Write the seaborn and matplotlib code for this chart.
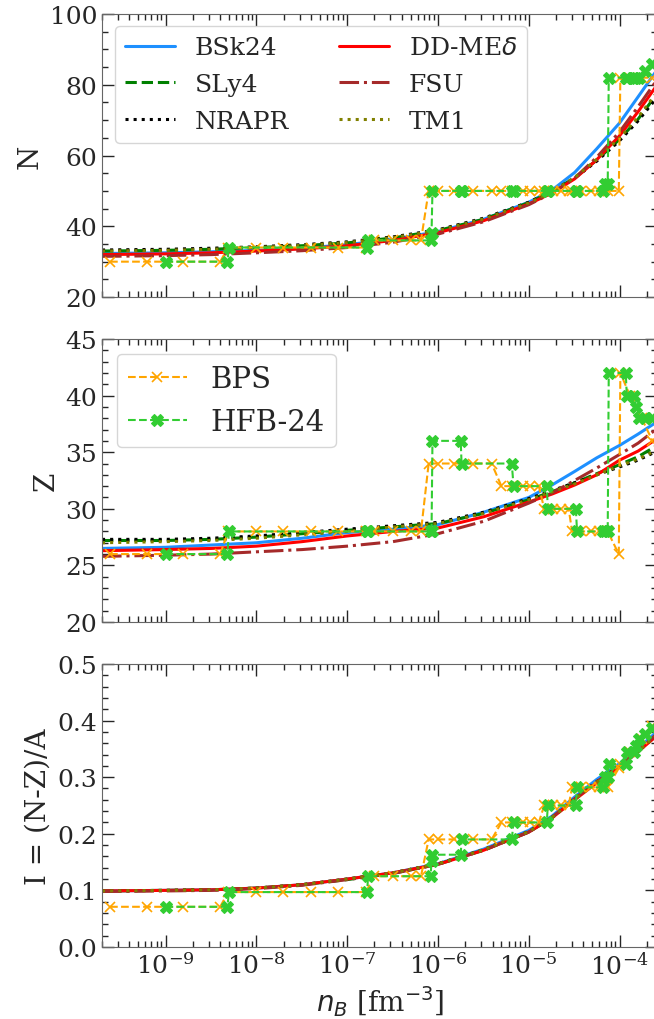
import matplotlib
matplotlib.use("Agg")
import matplotlib.pyplot as plt
import matplotlib.ticker as mticker
import numpy as np
import pandas as pd
import seaborn as sns

sns.set_style("ticks")
plt.rcParams["font.family"] = ["DejaVu Serif"]
plt.rcParams["mathtext.fontset"] = "dejavusans"

# density grid for the smooth model curves [fm^-3]
nb_grid = [2.0e-10, 1e-9, 3.2e-9, 1e-8, 3.2e-8, 1e-7, 3.2e-7, 1e-6, 3.2e-6,
           1e-5, 1.8e-5, 3.2e-5, 5.6e-5, 1e-4, 1.6e-4, 2.6e-4]

# neutron number N
N_bsk24 = [32.3, 32.5, 32.8, 33.2, 33.8, 34.8, 36.3, 38.5, 42.0, 46.8, 50.2, 55.2, 61.9, 69.2, 76.6, 84.3]
N_sly4 = [33.0, 33.2, 33.5, 34.0, 34.5, 35.3, 36.7, 38.8, 42.0, 46.7, 49.8, 53.7, 58.7, 64.6, 70.3, 77.5]
N_nrapr = [33.3, 33.5, 33.8, 34.2, 34.8, 35.6, 37.0, 39.0, 42.3, 46.8, 49.9, 53.6, 58.4, 64.2, 69.8, 76.5]
N_ddme = [32.0, 32.2, 32.5, 33.0, 33.6, 34.5, 36.0, 38.2, 41.6, 46.3, 49.4, 53.4, 58.8, 65.6, 72.4, 80.0]
N_fsu = [31.5, 31.7, 32.0, 32.5, 33.1, 34.0, 35.5, 37.8, 41.3, 46.1, 49.4, 53.6, 59.5, 66.7, 73.8, 81.5]
N_tm1 = [33.0, 33.2, 33.5, 34.0, 34.6, 35.4, 36.8, 38.8, 42.1, 46.6, 49.8, 53.8, 58.9, 64.9, 70.8, 78.0]

# proton number Z
Z_bsk24 = [26.5, 26.6, 26.8, 27.0, 27.4, 27.9, 28.2, 28.6, 29.7, 31.0, 32.1, 33.3, 34.5, 35.6, 36.6, 37.7]
Z_sly4 = [27.2, 27.2, 27.3, 27.5, 27.8, 28.1, 28.4, 28.7, 29.6, 30.8, 31.5, 32.3, 33.1, 33.9, 34.6, 35.6]
Z_nrapr = [27.3, 27.3, 27.4, 27.6, 27.9, 28.2, 28.5, 28.8, 29.7, 30.9, 31.6, 32.3, 33.0, 33.7, 34.3, 35.1]
Z_ddme = [26.3, 26.4, 26.5, 26.7, 27.1, 27.6, 28.0, 28.3, 29.3, 30.6, 31.3, 32.1, 33.0, 34.3, 35.1, 36.2]
Z_fsu = [25.8, 25.9, 26.0, 26.2, 26.4, 26.7, 27.1, 27.8, 28.9, 30.5, 31.4, 32.5, 33.6, 34.8, 35.8, 37.1]
Z_tm1 = [27.0, 27.1, 27.2, 27.4, 27.7, 28.0, 28.4, 28.7, 29.6, 30.8, 31.5, 32.2, 33.0, 33.8, 34.4, 35.2]

# isospin asymmetry I = (N-Z)/A
I_bsk24 = [0.099, 0.100, 0.101, 0.104, 0.110, 0.120, 0.131, 0.147, 0.173, 0.206, 0.231, 0.265, 0.296, 0.324, 0.351, 0.381]
I_sly4 = [0.099, 0.100, 0.101, 0.104, 0.110, 0.119, 0.130, 0.146, 0.171, 0.203, 0.228, 0.261, 0.291, 0.319, 0.345, 0.375]
I_nrapr = [0.099, 0.100, 0.101, 0.104, 0.110, 0.120, 0.131, 0.147, 0.172, 0.204, 0.229, 0.262, 0.292, 0.320, 0.346, 0.376]
I_ddme = [0.099, 0.100, 0.101, 0.104, 0.110, 0.120, 0.131, 0.146, 0.171, 0.203, 0.228, 0.260, 0.290, 0.318, 0.345, 0.374]
I_fsu = [0.098, 0.099, 0.100, 0.103, 0.109, 0.119, 0.130, 0.146, 0.171, 0.203, 0.229, 0.262, 0.292, 0.320, 0.347, 0.377]
I_tm1 = [0.099, 0.100, 0.101, 0.104, 0.110, 0.120, 0.131, 0.147, 0.172, 0.204, 0.229, 0.261, 0.291, 0.319, 0.346, 0.375]

# BPS table
nb_bps = [2.45e-10, 6.3e-10, 1.55e-9, 4.0e-9,
          4.9e-9, 9.8e-9, 1.95e-8, 4.0e-8, 7.9e-8, 1.6e-7,
          2.0e-7, 3.2e-7, 5.1e-7, 6.5e-7,
          7.9e-7, 1.0e-6, 1.5e-6, 2.45e-6, 3.9e-6,
          5.0e-6, 6.6e-6, 8.7e-6, 1.02e-5, 1.29e-5,
          1.48e-5, 1.86e-5, 2.24e-5, 2.75e-5,
          3.0e-5, 3.8e-5, 4.8e-5, 5.9e-5, 7.4e-5,
          9.8e-5, 1.02e-4, 1.3e-4, 1.75e-4, 2.3e-4]
N_bps = [30, 30, 30, 30,
         34, 34, 34, 34, 34, 34,
         36, 36, 36, 36,
         50, 50, 50, 50, 50,
         50, 50, 50, 50, 50,
         50, 50, 50, 50,
         50, 50, 50, 50, 50,
         50, 82, 82, 82, 82]
Z_bps = [26, 26, 26, 26,
         28, 28, 28, 28, 28, 28,
         28, 28, 28, 28,
         34, 34, 34, 34, 34,
         32, 32, 32, 32, 32,
         30, 30, 30, 30,
         28, 28, 28, 28, 28,
         26, 42, 40, 38, 36]
I_bps = [0.071, 0.071, 0.071, 0.071,
         0.097, 0.097, 0.097, 0.097, 0.097, 0.097,
         0.125, 0.125, 0.125, 0.125,
         0.190, 0.190, 0.190, 0.190, 0.190,
         0.220, 0.220, 0.220, 0.220, 0.220,
         0.250, 0.250, 0.250, 0.250,
         0.282, 0.282, 0.282, 0.282, 0.282,
         0.316, 0.323, 0.344, 0.367, 0.390]

# HFB-24 table
nb_hfb = [1.0e-9, 4.8e-9, 5.0e-9, 1.66e-7, 1.70e-7, 8.3e-7, 8.5e-7, 8.7e-7,
          1.78e-6, 1.82e-6, 6.5e-6, 6.8e-6, 1.58e-5, 1.62e-5, 3.3e-5, 3.4e-5,
          6.6e-5, 6.9e-5, 7.4e-5, 7.6e-5, 1.17e-4, 1.2e-4, 1.45e-4, 1.52e-4,
          1.62e-4, 1.9e-4, 2.25e-4]
N_hfb = [30, 30, 34, 34, 36, 36, 38, 50, 50, 50, 50, 50, 50, 50, 50, 50,
         50, 52, 52, 82, 82, 82, 82, 82, 82, 84, 86]
Z_hfb = [26, 26, 28, 28, 28, 28, 28, 36, 36, 34, 34, 32, 32, 30, 30, 28,
         28, 28, 28, 42, 42, 40, 40, 39, 38, 38, 38]
I_hfb = [0.071, 0.071, 0.097, 0.097, 0.125, 0.125, 0.152, 0.163, 0.163, 0.190,
         0.190, 0.220, 0.220, 0.250, 0.250, 0.282, 0.282, 0.300, 0.300, 0.323,
         0.323, 0.344, 0.344, 0.355, 0.367, 0.377, 0.387]

model_names = ["BSk24", "SLy4", "NRAPR", r"DD-ME$\delta$", "FSU", "TM1"]
model_colors = ["dodgerblue", "green", "black", "red", "brown", "olive"]
model_styles = ["-", "--", ":", "-", "-.", ":"]

N_models = [N_bsk24, N_sly4, N_nrapr, N_ddme, N_fsu, N_tm1]
Z_models = [Z_bsk24, Z_sly4, Z_nrapr, Z_ddme, Z_fsu, Z_tm1]
I_models = [I_bsk24, I_sly4, I_nrapr, I_ddme, I_fsu, I_tm1]


def draw_panel(ax, model_vals, bps_vals, hfb_vals):
    for name, col, ls, vals in zip(model_names, model_colors, model_styles, model_vals):
        sns.lineplot(x=nb_grid, y=vals, ax=ax, color=col, linestyle=ls, lw=2.2,
                     label=name, estimator=None, sort=False)
    sns.lineplot(x=nb_bps, y=bps_vals, ax=ax, color="orange", linestyle="--", lw=1.5,
                 marker="x", markersize=7.5, markeredgewidth=1.2,
                 markeredgecolor="orange", label="BPS", estimator=None, sort=False)
    sns.lineplot(x=nb_hfb, y=hfb_vals, ax=ax, color="limegreen", linestyle="--", lw=1.5,
                 marker="X", markersize=9, markeredgewidth=0.8,
                 markeredgecolor="limegreen", label="HFB-24", estimator=None, sort=False)
    ax.set_xscale("log")
    ax.set_xticks([1e-9, 1e-8, 1e-7, 1e-6, 1e-5, 1e-4])
    ax.xaxis.set_minor_locator(mticker.LogLocator(base=10, subs=np.arange(2, 10), numticks=20))
    ax.xaxis.set_minor_formatter(mticker.NullFormatter())
    ax.set_xlim(2.0e-10, 2.6e-4)
    ax.tick_params(which="both", direction="in", top=True, right=True, labelsize=18)
    ax.tick_params(which="major", length=8.5, width=1)
    ax.tick_params(which="minor", length=4, width=1)
    for sp in ax.spines.values():
        sp.set_color("0.4")


fig = plt.figure(figsize=(6.54, 10.2), dpi=100)
ax1 = fig.add_axes([0.156, 0.7078, 0.849, 0.2775])
ax2 = fig.add_axes([0.156, 0.3892, 0.849, 0.2775])
ax3 = fig.add_axes([0.156, 0.0706, 0.849, 0.2775])

draw_panel(ax1, N_models, N_bps, N_hfb)
draw_panel(ax2, Z_models, Z_bps, Z_hfb)
draw_panel(ax3, I_models, I_bps, I_hfb)

ax1.set_ylim(20, 100)
ax1.yaxis.set_major_locator(mticker.MultipleLocator(20))
ax1.yaxis.set_minor_locator(mticker.MultipleLocator(5))
ax1.set_ylabel("N", fontsize=20)

ax2.set_ylim(20, 45)
ax2.yaxis.set_major_locator(mticker.MultipleLocator(5))
ax2.yaxis.set_minor_locator(mticker.MultipleLocator(1))
ax2.set_ylabel("Z", fontsize=20)

ax3.set_ylim(0, 0.5)
ax3.yaxis.set_major_locator(mticker.MultipleLocator(0.1))
ax3.yaxis.set_minor_locator(mticker.MultipleLocator(0.02))
ax3.yaxis.set_major_formatter(mticker.FormatStrFormatter("%.1f"))
ax3.set_ylabel("I = (N-Z)/A", fontsize=20)
ax3.set_xlabel(r"$n_B$ [fm$^{-3}$]", fontsize=20)

for ax in (ax1, ax2):
    ax.tick_params(labelbottom=False)
    ax.set_xlabel("")

h, l = ax1.get_legend_handles_labels()
ax1.legend(h[:6], l[:6], ncol=2, loc="upper left", fontsize=18, labelspacing=0.55)
h, l = ax2.get_legend_handles_labels()
ax2.legend(h[6:], l[6:], loc="upper left", fontsize=21)
ax3.get_legend().remove()

fig.savefig("out.png", dpi=100)
